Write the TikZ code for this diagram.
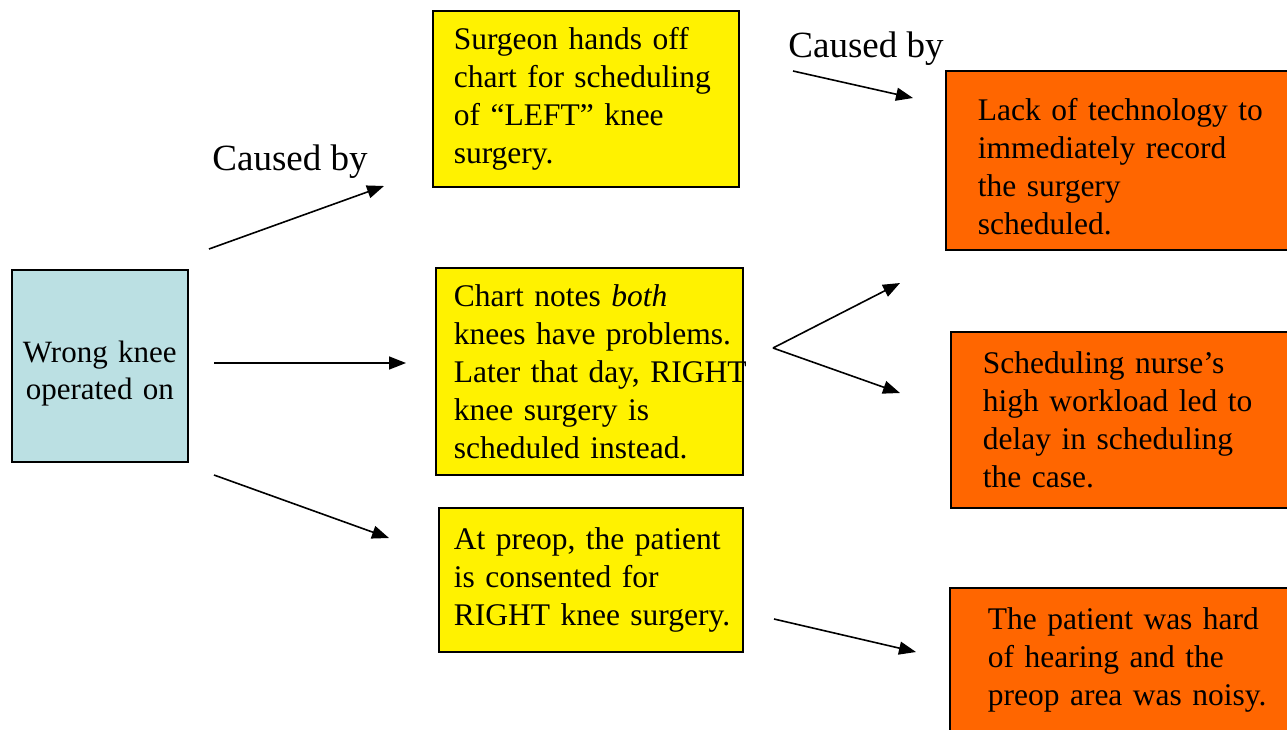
\documentclass[tikz,border=0pt]{standalone}
\usepackage{fontspec}
\setmainfont{Liberation Serif}
\usetikzlibrary{arrows.meta}
\definecolor{paleblue}{RGB}{187,224,227}
\definecolor{causeorange}{RGB}{255,102,0}
\begin{document}
\begin{tikzpicture}[x=1pt, y=-1pt,
    box/.style={draw=black, line width=1.6pt, anchor=north west, inner ysep=0pt, align=left, font=\fontsize{31.5}{38}\selectfont},
    effect/.style={box, fill=yellow},
    cause/.style={box, fill=causeorange},
    arr/.style={line width=1.6pt, -{Triangle[length=17pt, width=13pt]}},
    lbl/.style={font=\fontsize{37}{44}\selectfont, inner sep=0pt}]
    \useasboundingbox (0, 0) rectangle (1287, 729);
    \clip (0, 0) rectangle (1287, 729);
    % boxes
    \node[box, fill=paleblue, align=center, inner xsep=0pt, text width=176pt, minimum height=192pt, font=\fontsize{31}{37}\selectfont] (wrong) at (11, 269) {\rule{0pt}{36pt}Wrong knee\\operated on};
    \node[effect, inner xsep=21pt, text width=264pt, minimum height=176pt] (handoff) at (432, 10) {Surgeon hands off\\chart for scheduling\\of ``LEFT'' knee\\surgery.};
    \node[effect, inner xsep=18pt, text width=271pt, minimum height=207pt] (notes) at (435, 267) {Chart notes \textit{both}\\\mbox{knees have problems.}\\\mbox{Later that day, RIGHT}\\knee surgery is\\scheduled instead.};
    \node[effect, inner xsep=15pt, text width=274pt, minimum height=144pt] (preop) at (438, 507) {At preop, the patient\\is consented for\\\mbox{RIGHT knee surgery.}};
    \node[cause, inner xsep=32pt, text width=296pt, minimum height=179pt] (tech) at (945, 70) {\rule{0pt}{34pt}Lack of technology to\\immediately record\\the surgery\\scheduled.};
    \node[cause, inner xsep=32pt, text width=296pt, minimum height=176pt] (nurse) at (950, 331) {Scheduling nurse’s\\high workload led to\\delay in scheduling\\the case.};
    \node[cause, inner xsep=38pt, text width=284pt, minimum height=144pt] (noise) at (949, 587) {The patient was hard\\of hearing and the\\preop area was noisy.};
    % labels
    \node[lbl] (cb1) at (290, 162) {Caused by};
    \node[lbl] (cb2) at (866, 49) {Caused by};
    % arrow ends
    \coordinate (w1) at (209, 249); \coordinate (h1) at (384, 186);
    \coordinate (w2) at (214, 363); \coordinate (n1) at (406, 363);
    \coordinate (w3) at (214, 475); \coordinate (p1) at (389, 538);
    \coordinate (h2) at (793, 71);  \coordinate (t1) at (913, 98);
    \coordinate (n2) at (773, 348); \coordinate (t2) at (900, 283);
    \coordinate (s1) at (900, 393);
    \coordinate (p2) at (774, 619); \coordinate (o1) at (916, 652);
    \draw[arr] (w1) -- (h1);
    \draw[arr] (w2) -- (n1);
    \draw[arr] (w3) -- (p1);
    \draw[arr] (h2) -- (t1);
    \draw[arr] (n2) -- (t2);
    \draw[arr] (n2) -- (s1);
    \draw[arr] (p2) -- (o1);
\end{tikzpicture}
\end{document}
